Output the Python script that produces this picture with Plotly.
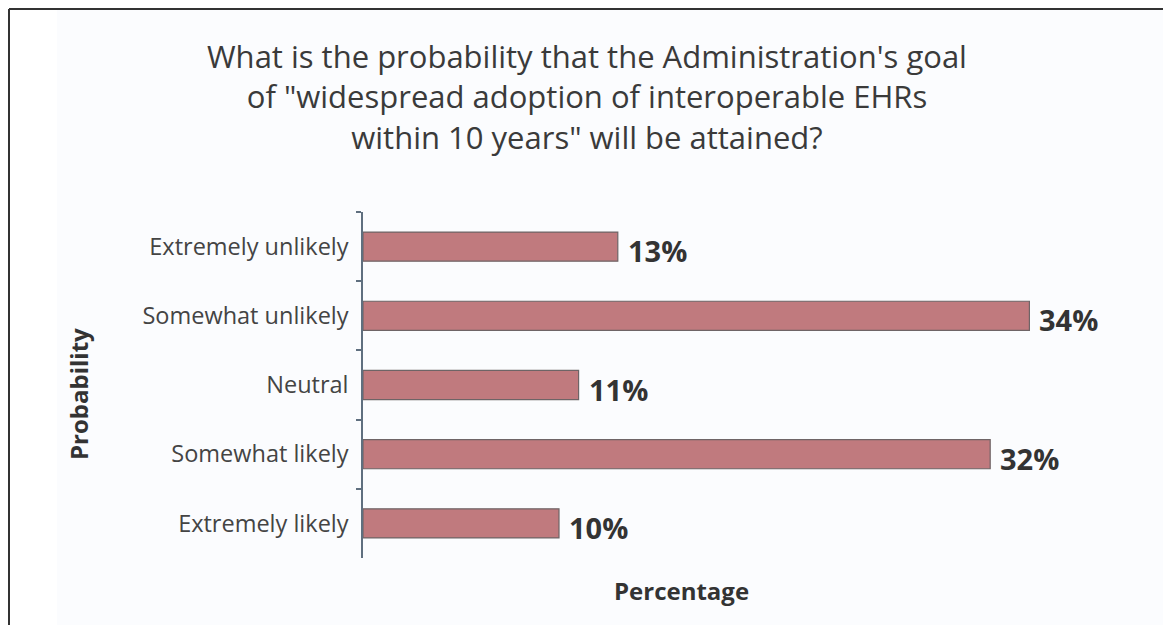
import plotly.graph_objects as go

# Survey responses
categories = ["Extremely unlikely", "Somewhat unlikely", "Neutral",
              "Somewhat likely", "Extremely likely"]
percentages = [13, 34, 11, 32, 10]

title_lines = [
    "What is the probability that the Administration's goal",
    "of \"widespread adoption of interoperable EHRs",
    "within 10 years\" will be attained?",
]

W, H = 1163, 625
L, R, T, B = 363, 16, 212, 67
FONT = "Open Sans"

fig = go.Figure()
fig.add_trace(go.Bar(
    x=percentages,
    y=categories,
    orientation="h",
    width=0.42,
    marker=dict(color="#c07a7e", line=dict(color="#6e6466", width=1.2)),
    hoverinfo="skip",
))

# Value labels to the right of each bar
for cat, val in zip(categories, percentages):
    fig.add_annotation(
        x=val, y=cat, xref="x", yref="y",
        text=f"<b>{val}%</b>", showarrow=False,
        xanchor="left", yanchor="middle", xshift=8, yshift=-4,
        font=dict(family=FONT, size=29, color="#333333"),
    )

px = lambda v: (v - L) / (W - L - R)
py = lambda v: (H - B - v) / (H - T - B)

# Title
fig.add_annotation(
    x=px(587), y=py(97),
    xref="paper", yref="paper",
    text="<br>".join(title_lines), showarrow=False,
    xanchor="center", yanchor="middle", align="center",
    font=dict(family=FONT, size=31, color="#3a3a3a"),
)

# Axis titles
fig.add_annotation(
    x=px(681), y=py(590),
    xref="paper", yref="paper",
    text="<b>Percentage</b>", showarrow=False,
    xanchor="center", yanchor="middle",
    font=dict(family=FONT, size=24, color="#333333"),
)
fig.add_annotation(
    x=px(78), y=py(394),
    xref="paper", yref="paper",
    text="<b>Probability</b>", showarrow=False, textangle=-90,
    xanchor="center", yanchor="middle",
    font=dict(family=FONT, size=24, color="#333333"),
)

# Page frame: white left margin strip, dark border on top and left
shapes = [
    dict(type="rect", xref="paper", yref="paper", x0=px(0), x1=px(57),
         y0=py(H), y1=py(0), fillcolor="white", line=dict(width=0), layer="below"),
    dict(type="rect", xref="paper", yref="paper", x0=px(0), x1=px(W),
         y0=py(9), y1=py(0), fillcolor="white", line=dict(width=0), layer="below"),
    dict(type="line", xref="paper", yref="paper", x0=px(9), x1=px(W),
         y0=py(9), y1=py(9), line=dict(color="#333333", width=2)),
    dict(type="line", xref="paper", yref="paper", x0=px(9), x1=px(9),
         y0=py(9), y1=py(H), line=dict(color="#333333", width=2)),
]

fig.update_layout(
    width=W, height=H,
    margin=dict(l=L, r=R, t=T, b=B, pad=0),
    paper_bgcolor="#fbfcfe",
    plot_bgcolor="rgba(0,0,0,0)",
    showlegend=False,
    shapes=shapes,
    font=dict(family=FONT),
    xaxis=dict(range=[0, 40], visible=False, fixedrange=True),
    yaxis=dict(
        type="category",
        categoryorder="array", categoryarray=categories,
        autorange="reversed",
        tickson="boundaries",
        ticks="outside", ticklen=5, tickwidth=1.5, tickcolor="#5f6f7f",
        showline=True, linecolor="#5f6f7f", linewidth=1.5,
        showgrid=False, zeroline=False,
        ticklabelstandoff=8,
        tickfont=dict(family=FONT, size=23.5, color="#444444"),
        fixedrange=True,
    ),
)

fig.write_html("out.html")
